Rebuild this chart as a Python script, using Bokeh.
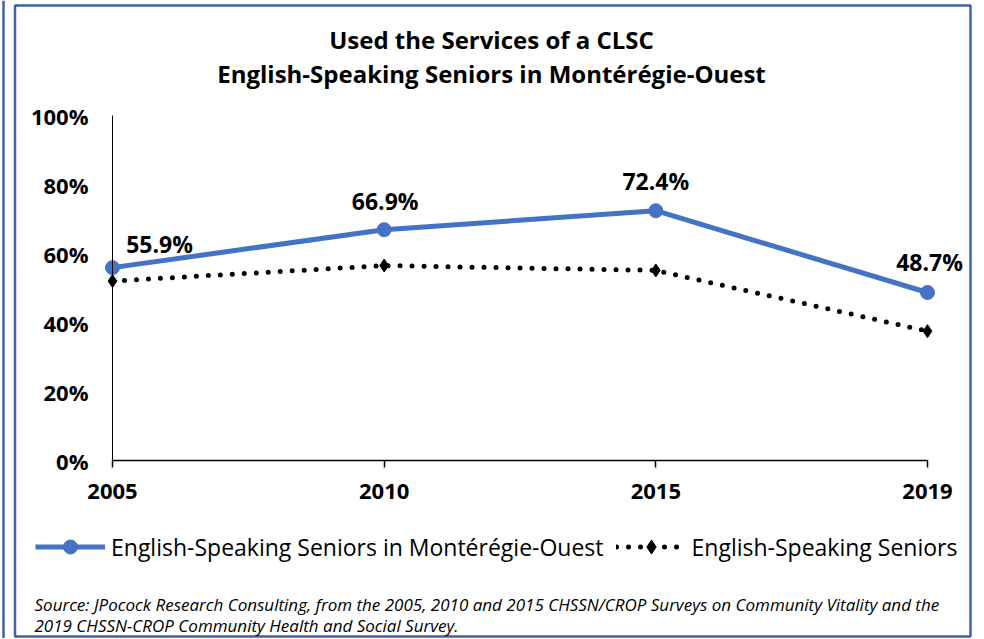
from bokeh.plotting import figure
from bokeh.models import (Range1d, FixedTicker, Label, Legend, LegendItem,
                          BoxAnnotation, Span)
from bokeh.core.properties import value
from bokeh.embed import file_html
from bokeh.resources import INLINE

# ---- data ----
years = ["2005", "2010", "2015", "2019"]
region_values = [55.9, 66.9, 72.4, 48.7]
seniors_values = [52.0, 56.5, 55.1, 37.5]
region_labels = ["55.9%", "66.9%", "72.4%", "48.7%"]
y_ticks = [0, 20, 40, 60, 80, 100]
y_tick_labels = ["0%", "20%", "40%", "60%", "80%", "100%"]
title_lines = ["Used the Services of a CLSC",
               "English-Speaking Seniors in Montérégie-Ouest"]
legend_labels = ["English-Speaking Seniors in Montérégie-Ouest",
                 "English-Speaking Seniors"]
source_lines = [
    "Source: JPocock Research Consulting, from the 2005, 2010  and 2015  CHSSN/CROP Surveys on Community Vitality and the",
    "2019  CHSSN-CROP Community Health and Social Survey.",
]

xs = list(range(len(years)))
FONT = "Open Sans"
BLUE = "#4472C4"
FRAME_BLUE = "#3F62A8"

W, H = 972, 638
# pixel layout of the plotting area (canvas coordinates, top-left origin)
X0_PX, X3_PX = 112, 927      # x positions of first / last category
Y0_PX, Y100_PX = 460, 115    # y positions of 0% and 100%
sx = (X3_PX - X0_PX) / 3.0
sy = (Y0_PX - Y100_PX) / 100.0

p = figure(width=W, height=H, output_backend="svg", toolbar_location=None,
           title=None,
           x_range=Range1d(-X0_PX / sx, 3 + (W - X3_PX) / sx),
           y_range=Range1d(-(H - Y0_PX) / sy, 100 + Y100_PX / sy),
           min_border=0, min_border_left=0, min_border_right=0,
           min_border_top=0, min_border_bottom=0)
p.outline_line_color = None
p.grid.visible = False
p.background_fill_color = "white"
p.border_fill_color = "white"


def scr_y(py):
    return H - py


# frame box and outer line
p.add_layout(BoxAnnotation(left=14.5, right=970, top=scr_y(5), bottom=scr_y(636),
                           left_units="screen", right_units="screen",
                           top_units="screen", bottom_units="screen",
                           fill_alpha=0, line_color=FRAME_BLUE, line_alpha=1.0,
                           line_width=2.5))
p.add_layout(Span(location=3, location_units="screen", dimension="height",
                  line_color=FRAME_BLUE, line_width=2.5))

# series
dl = p.line(xs, seniors_values, line_color="black", line_width=5,
            line_dash="0 12", line_cap="round")
ds = p.scatter(xs, seniors_values, marker="diamond", size=13, color="black")
bl = p.line(xs, region_values, line_color=BLUE, line_width=5)
bs = p.scatter(xs, region_values, marker="circle", size=14, color=BLUE)

# data labels
lab_dx = [47, 1, 0, 2]
lab_dy = [-24, -29, -29.5, -30]
p.text(xs, region_values, text=region_labels, x_offset=lab_dx, y_offset=lab_dy,
       text_align="center", text_baseline="middle",
       text_font=value(FONT), text_font_style="bold",
       text_font_size="23px", text_color="black")

# axes
xa = p.xaxis[0]
xa.fixed_location = 0
xa.ticker = FixedTicker(ticks=xs)
xa.major_label_overrides = {i: y for i, y in zip(xs, years)}
xa.bounds = (0, 3)
xa.axis_line_color = "black"
xa.axis_line_width = 1.5
xa.major_tick_line_color = "black"
xa.major_tick_line_width = 1.5
xa.major_tick_out = 7
xa.major_tick_in = 0
xa.minor_tick_line_color = None
xa.major_label_standoff = 16
xa.major_label_text_font = FONT
xa.major_label_text_font_style = "bold"
xa.major_label_text_font_size = "22px"
xa.major_label_text_color = "black"

ya = p.yaxis[0]
ya.fixed_location = 0
ya.ticker = FixedTicker(ticks=y_ticks)
ya.major_label_overrides = {t: l for t, l in zip(y_ticks, y_tick_labels)}
ya.bounds = (0, 100)
ya.axis_line_color = "black"
ya.axis_line_width = 1
ya.major_tick_out = 0
ya.major_tick_in = 0
ya.minor_tick_line_color = None
ya.major_label_standoff = 24
ya.major_label_text_font = FONT
ya.major_label_text_font_style = "bold"
ya.major_label_text_font_size = "22px"
ya.major_label_text_color = "black"

# title
for i, t in enumerate(title_lines):
    p.add_layout(Label(x=491, y=scr_y(39 + 34 * i), x_units="screen", y_units="screen",
                       text=t, text_align="center", text_baseline="alphabetic",
                       text_font=FONT, text_font_style="bold",
                       text_font_size="24px", text_color="black"))

# legend
legend = Legend(items=[LegendItem(label=legend_labels[0], renderers=[bl, bs]),
                       LegendItem(label=legend_labels[1], renderers=[dl, ds])],
                location=(35, scr_y(564)), orientation="horizontal",
                glyph_width=70, glyph_height=35, label_standoff=6, spacing=12,
                padding=0, margin=0, border_line_color=None,
                background_fill_alpha=0,
                label_text_font=FONT, label_text_font_size="23px",
                label_text_color="black")
p.add_layout(legend)

# source note
for i, s in enumerate(source_lines):
    p.add_layout(Label(x=34, y=scr_y(604 + 21 * i), x_units="screen", y_units="screen",
                       text=s, text_align="left", text_baseline="alphabetic",
                       text_font=FONT, text_font_style="italic",
                       text_font_size="17px", text_color="black"))

open("out.html", "w").write(file_html(p, INLINE))
